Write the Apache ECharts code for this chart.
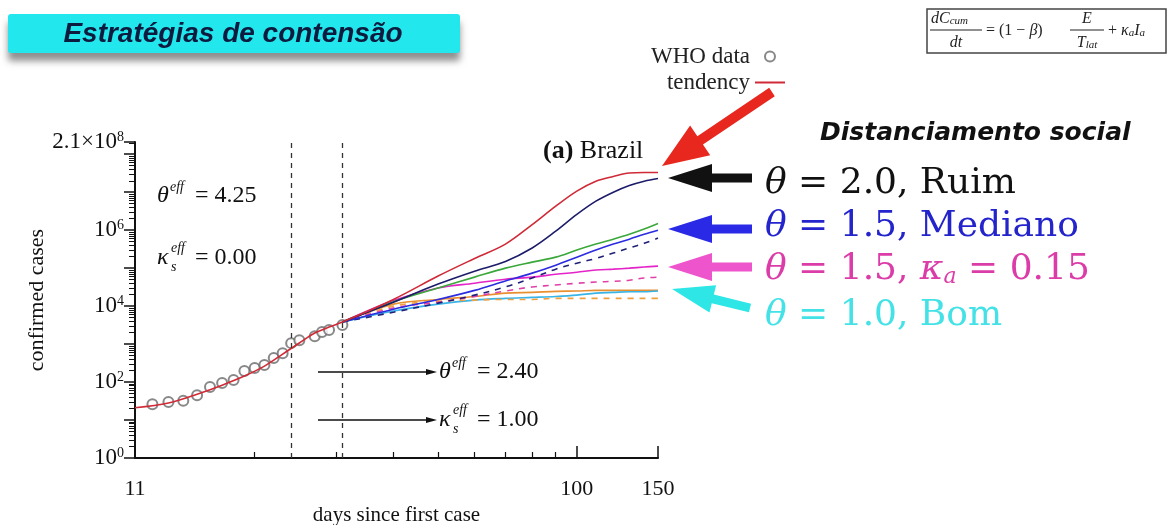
<!DOCTYPE html>
<html>
<head>
<meta charset="utf-8">
<script src="https://cdn.jsdelivr.net/npm/echarts@6.0.0/dist/echarts.min.js"></script>
<style>
html, body { margin: 0; padding: 0; background: #fff; }
#chart { width: 1175px; height: 525px; }
</style>
</head>
<body>
<div id="chart"></div>
<script>
// WHO data (circles)
const whoDays = [12, 13, 14, 15, 16, 17, 18, 19, 20, 21, 22, 23, 24, 25, 27, 28, 29, 31];
const whoCases = [26, 30, 32, 45, 74, 94, 113, 195, 233, 280, 428, 577, 1060, 1265, 1620, 2080, 2340, 3160];

// fitted tendency (red)
const tendencyDays = [11, 13, 15, 17, 19, 21, 23, 25, 27, 29, 31, 40, 50, 60, 70, 80, 90, 100, 110, 120, 130, 140, 150];
const tendencyCases = [21, 28, 48, 83, 144, 263, 545, 1070, 1950, 2800, 3800, 1.5e4, 6.2e4, 1.8e5, 4.3e5, 1.4e6, 4.3e6, 1.07e7, 1.95e7, 2.6e7, 3.2e7, 3.3e7, 3.3e7];

// scenarios after day 31
const forecastDays = [31, 40, 50, 60, 70, 80, 90, 100, 110, 120, 130, 140, 150];
const ruimCases = [3800, 1.27e4, 3.8e4, 8.3e4, 1.5e5, 3.4e5, 9.4e5, 2.6e6, 5.8e6, 1e7, 1.5e7, 1.95e7, 2.3e7];
const greenCases = [3800, 1.3e4, 3e4, 5.8e4, 1e5, 1.44e5, 1.95e5, 3e5, 4.3e5, 5.8e5, 7.8e5, 1.07e6, 1.5e6];
const medianoCases = [3800, 8.3e3, 1.5e4, 2.6e4, 4.6e4, 7.4e4, 1.2e5, 1.95e5, 3e5, 4.3e5, 5.8e5, 7.8e5, 1e6];
const medianoDashed = [3800, 6.9e3, 1.2e4, 1.95e4, 3.2e4, 5.5e4, 9.4e4, 1.35e5, 1.8e5, 2.5e5, 3.4e5, 4.5e5, 6.2e5];
const kappaCases = [3800, 1.4e4, 3e4, 4e4, 5.1e4, 5.8e4, 6.9e4, 7.8e4, 8.9e4, 9.4e4, 1e5, 1.07e5, 1.13e5];
const kappaDashed = [3800, 8.9e3, 1.27e4, 1.8e4, 2.5e4, 3.2e4, 3.6e4, 4e4, 4.3e4, 4.5e4, 4.8e4, 5.5e4, 5.8e4];
const orangeCases = [3800, 1.13e4, 1.5e4, 1.8e4, 2.2e4, 2.3e4, 2.45e4, 2.5e4, 2.6e4, 2.6e4, 2.6e4, 2.6e4, 2.6e4];
const bomCases = [3800, 7.4e3, 1.13e4, 1.44e4, 1.6e4, 1.7e4, 1.8e4, 1.95e4, 2.2e4, 2.3e4, 2.4e4, 2.4e4, 2.5e4];
const orangeDashed = [3800, 1e4, 1.35e4, 1.44e4, 1.5e4, 1.5e4, 1.6e4, 1.6e4, 1.6e4, 1.6e4, 1.6e4, 1.6e4, 1.6e4];

const phaseDays = [24, 31];
const xLabelDays = [11, 100, 150];
const xMinorDays = [20, 30, 40, 50, 60, 70, 80, 90];
const yLabelValues = [1, 1e2, 1e4, 1e6, 2.1e8];
const yMax = 2.1e8;

const lg = Math.log10;
const serif = '"Liberation Serif", "Times New Roman", serif';
const mathSerif = '"DejaVu Serif", serif';
const sans = '"Liberation Sans", Arial, sans-serif';

const yMajor = [];
const yMinor = [];
for (let n = 0; n <= 8; n++) {
  yMajor.push(n);
  for (let k = 2; k <= 9; k++) {
    if (k * Math.pow(10, n) <= yMax) yMinor.push(lg(k * Math.pow(10, n)));
  }
}
yMajor.push(lg(yMax));

function pairs(days, vals) {
  return days.map((d, i) => [lg(d), lg(vals[i])]);
}

function curve(name, days, vals, color, dashed) {
  return {
    name,
    type: 'line',
    data: pairs(days, vals),
    smooth: 0.35,
    symbol: 'none',
    lineStyle: { color, width: 1.6, type: dashed ? [6, 6] : 'solid' },
    itemStyle: { color },
    silent: true
  };
}

function arrowPoints(x1, y1, x2, y2, w, hl, hw) {
  const dx = x2 - x1, dy = y2 - y1, L = Math.hypot(dx, dy);
  const ux = dx / L, uy = dy / L, px = -uy, py = ux;
  const bx = x2 - ux * hl, by = y2 - uy * hl;
  return [
    [x1 + px * w / 2, y1 + py * w / 2],
    [bx + px * w / 2, by + py * w / 2],
    [bx + px * hw / 2, by + py * hw / 2],
    [x2, y2],
    [bx - px * hw / 2, by - py * hw / 2],
    [bx - px * w / 2, by - py * w / 2],
    [x1 - px * w / 2, y1 - py * w / 2]
  ];
}

function arrow(x1, y1, x2, y2, w, hl, hw, color) {
  return { type: 'polygon', shape: { points: arrowPoints(x1, y1, x2, y2, w, hl, hw) }, style: { fill: color }, silent: true };
}

function txt(x, y, text, font, fill, align, extra) {
  return {
    type: 'text', x, y, silent: true,
    style: Object.assign({
      text, font, fill: fill || '#111',
      align: align || 'left', textAlign: align || 'left',
      verticalAlign: 'middle', textVerticalAlign: 'middle'
    }, extra || {})
  };
}

// theta^eff / kappa_s^eff labels inside the plot
function thetaEff(x, y, value) {
  return [
    txt(x, y, 'θ', 'italic 24px ' + serif),
    txt(x + 13, y - 9, 'eff', 'italic 14px ' + serif),
    txt(x + 38, y, '= ' + value, '24px ' + serif)
  ];
}
function kappaEff(x, y, value) {
  return [
    txt(x, y, 'κ', 'italic 24px ' + serif),
    txt(x + 14, y - 10, 'eff', 'italic 14px ' + serif),
    txt(x + 14, y + 9, 's', 'italic 14px ' + serif),
    txt(x + 38, y, '= ' + value, '24px ' + serif)
  ];
}

const bigRich = {
  i: { fontStyle: 'italic', fontSize: 36, fontFamily: mathSerif },
  sub: { fontStyle: 'italic', fontSize: 22, fontFamily: mathSerif, verticalAlign: 'bottom' }
};
const smallRich = {
  i: { fontStyle: 'italic', fontSize: 16, fontFamily: serif },
  s: { fontStyle: 'italic', fontSize: 11, fontFamily: serif, verticalAlign: 'bottom' }
};

const graphic = [
  // banner
  { type: 'rect', shape: { x: 8, y: 14, width: 452, height: 39, r: 3 },
    style: { fill: '#22e8ee', shadowColor: 'rgba(70,70,70,0.6)', shadowBlur: 7, shadowOffsetY: 8 }, silent: true },
  txt(233, 34, 'Estratégias de contensão', 'italic bold 28px ' + sans, '#0d1b3e', 'center'),

  // formula box
  { type: 'rect', shape: { x: 927, y: 9, width: 239, height: 44 }, style: { fill: '#fff', stroke: '#444', lineWidth: 1.5 }, silent: true },
  txt(931, 19, '{i|dC}{s|cum}', '16px ' + serif, '#222', 'left', { rich: smallRich }),
  { type: 'line', shape: { x1: 930, y1: 30, x2: 982, y2: 30 }, style: { stroke: '#222', lineWidth: 1 }, silent: true },
  txt(956, 43, 'dt', 'italic 16px ' + serif, '#222', 'center'),
  txt(986, 31, '= (1 − {i|β})', '16px ' + serif, '#222', 'left', { rich: smallRich }),
  txt(1087, 19, 'E', 'italic 16px ' + serif, '#222', 'center'),
  { type: 'line', shape: { x1: 1070, y1: 30, x2: 1104, y2: 30 }, style: { stroke: '#222', lineWidth: 1 }, silent: true },
  txt(1087, 43, '{i|T}{s|lat}', '16px ' + serif, '#222', 'center', { rich: smallRich }),
  txt(1108, 31, '+ {i|κ}{s|a}{i|I}{s|a}', '16px ' + serif, '#222', 'left', { rich: smallRich }),

  // panel label
  txt(543, 151, '{b|(a)} Brazil', '26px ' + serif, '#111', 'left', { rich: { b: { fontWeight: 'bold', fontSize: 26, fontFamily: serif } } }),

  // right-hand annotations
  txt(820, 133, 'Distanciamento social', 'italic bold 25px "DejaVu Sans", sans-serif', '#111'),
  txt(765, 184, '{i|θ} = 2.0, Ruim', '36px ' + mathSerif, '#111', 'left', { rich: bigRich }),
  txt(765, 227, '{i|θ} = 1.5, Mediano', '36px ' + mathSerif, '#2424cc', 'left', { rich: bigRich }),
  txt(765, 270, '{i|θ} = 1.5, {i|κ}{sub|a} = 0.15', '36px ' + mathSerif, '#dc3ca8', 'left', { rich: bigRich }),
  txt(765, 316, '{i|θ} = 1.0, Bom', '36px ' + mathSerif, '#44e2e6', 'left', { rich: bigRich }),

  arrow(772, 92, 662, 166, 10, 46, 36, '#e8281e'),
  arrow(752, 178, 668, 178, 9, 44, 28, '#111'),
  arrow(752, 229, 668, 229, 9, 44, 28, '#2a2ae6'),
  arrow(752, 267, 668, 267, 9, 44, 28, '#ee55cc'),
  arrow(750, 308, 672, 289, 9, 42, 28, '#2ee6e6'),

  // effective parameter notes
  ...thetaEff(157, 196, '4.25'),
  ...kappaEff(157, 258, '0.00'),
  ...thetaEff(439, 372, '2.40'),
  ...kappaEff(439, 420, '1.00'),
  arrow(318, 372, 437, 372, 1.5, 11, 6, '#111'),
  arrow(318, 420, 437, 420, 1.5, 11, 6, '#111')
];

const series = [
  {
    name: 'WHO data',
    type: 'scatter',
    data: pairs(whoDays, whoCases),
    symbol: 'emptyCircle',
    symbolSize: 10,
    itemStyle: { color: '#6a6a6a', borderWidth: 1 },
    silent: true
  },
  curve('orange', forecastDays, orangeCases, '#e89030', false),
  curve('bom', forecastDays, bomCases, '#38b4e6', false),
  curve('orange dashed', forecastDays, orangeDashed, '#f0a040', true),
  curve('kappa dashed', forecastDays, kappaDashed, '#e040a8', true),
  curve('kappa', forecastDays, kappaCases, '#e424c8', false),
  curve('mediano dashed', forecastDays, medianoDashed, '#202078', true),
  curve('mediano', forecastDays, medianoCases, '#2b2be0', false),
  curve('green', forecastDays, greenCases, '#3aa83a', false),
  curve('ruim', forecastDays, ruimCases, '#1c1c6a', false),
  Object.assign(curve('tendency', tendencyDays, tendencyCases, '#d02a36', false), {
    markLine: {
      silent: true,
      symbol: ['none', 'none'],
      label: { show: false },
      lineStyle: { color: '#333', type: [5, 5], width: 1.3 },
      data: phaseDays.map(d => ({ xAxis: lg(d) }))
    }
  })
];

const axisBlack = { lineStyle: { color: '#111', width: 2 } };

const option = {
  animation: false,
  backgroundColor: '#fff',
  grid: { left: 135, right: 517, top: 142, bottom: 67, containLabel: false, outerBoundsMode: 'none' },
  legend: {
    data: [
      { name: 'WHO data', icon: 'emptyCircle' },
      { name: 'tendency', itemStyle: { opacity: 0 } }
    ],
    orient: 'vertical',
    align: 'right',
    left: 646,
    top: 40,
    itemWidth: 30,
    itemHeight: 10,
    itemGap: 3,
    selectedMode: false,
    textStyle: { fontFamily: serif, fontSize: 23, color: '#222' }
  },
  xAxis: [
    {
      type: 'value', min: lg(11), max: lg(150), position: 'bottom',
      axisLine: axisBlack,
      axisTick: { customValues: xLabelDays.map(lg), inside: true, length: 12, lineStyle: { color: '#111', width: 1.5 } },
      axisLabel: { customValues: xLabelDays.map(lg), formatter: v => String(Math.round(Math.pow(10, v))), fontFamily: serif, fontSize: 22, color: '#111', margin: 20 },
      splitLine: { show: false },
      name: 'days since first case', nameLocation: 'middle', nameGap: 39,
      nameTextStyle: { fontFamily: serif, fontSize: 21, color: '#111' }
    },
    {
      type: 'value', min: lg(11), max: lg(150), position: 'bottom',
      axisLine: { show: false },
      axisTick: { customValues: xMinorDays.map(lg), inside: true, length: 6, lineStyle: { color: '#111', width: 1.2 } },
      axisLabel: { show: false },
      splitLine: { show: false }
    }
  ],
  yAxis: [
    {
      type: 'value', min: 0, max: lg(yMax), position: 'left',
      axisLine: axisBlack,
      axisTick: { customValues: yMajor, length: 11, lineStyle: { color: '#111', width: 1.5 } },
      axisLabel: {
        customValues: yLabelValues.map(lg),
        formatter: v => Math.abs(v - lg(yMax)) < 0.01 ? '2.1×10{sup|8}' : '10{sup|' + Math.round(v) + '}',
        fontFamily: serif, fontSize: 23, color: '#111', margin: 11,
        rich: { sup: { fontFamily: serif, fontSize: 14, color: '#111', verticalAlign: 'top' } }
      },
      splitLine: { show: false },
      name: 'confirmed cases', nameLocation: 'middle', nameGap: 74,
      nameTextStyle: { fontFamily: serif, fontSize: 22, color: '#111' }
    },
    {
      type: 'value', min: 0, max: lg(yMax), position: 'left',
      axisLine: { show: false },
      axisTick: { customValues: yMinor, length: 6, lineStyle: { color: '#111', width: 1 } },
      axisLabel: { show: false },
      splitLine: { show: false }
    }
  ],
  series,
  graphic
};

const chart = echarts.init(document.getElementById('chart'));
chart.setOption(option);
</script>
</body>
</html>
